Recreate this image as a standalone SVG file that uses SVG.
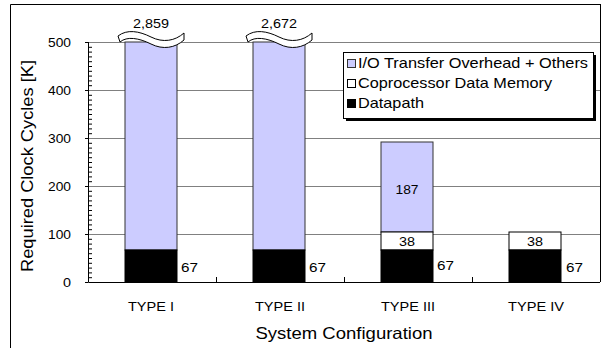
<svg xmlns="http://www.w3.org/2000/svg" xmlns:xlink="http://www.w3.org/1999/xlink" width="605" height="348" viewBox="0 0 605 348">
<style>
text{font-family:"Liberation Sans",Arial,sans-serif;fill:#000}
.t12{font-size:13px}
.t13{font-size:13.5px}
.t14{font-size:14.5px}
.t16{font-size:16.5px}
.grid{stroke:#808080;stroke-width:1;fill:none}
.axis{stroke:#000;stroke-width:1;fill:none}
.io{fill:#ccccff;stroke:#333;stroke-width:1}
.mem{fill:#fff;stroke:#000;stroke-width:1}
.dp{fill:#000;stroke:#000;stroke-width:1}
.wave{fill:#fff;stroke:#000;stroke-width:1}
</style>
<defs>
<path id="wave" d="M-33,36 C-24,29 -12,31 0,37 C12,43 24,41 33,33 L33,40 C24,48 12,50 0,44 C-12,38 -24,36 -31,42 Z"/>
</defs>
<rect x="0" y="0" width="605" height="348" fill="#fff"/>
<g id="frame">
<path class="axis" d="M10.5,348 V4.5 H600.5"/>
</g>
<g id="grid">
<path class="grid" d="M88,42.5 H600 M88,90.5 H600 M88,138.5 H600 M88,186.5 H600 M88,234.5 H600"/>
<path class="axis" d="M600.5,4 V282"/>
</g>
<g id="axes">
<path class="axis" d="M88.5,42 V282.5 H600"/>
<path class="axis" d="M85,42.5 H88 M85,90.5 H88 M85,138.5 H88 M85,186.5 H88 M85,234.5 H88 M85,282.5 H88"/>
<path class="axis" d="M88,47.3 h4 M88,52.1 h4 M88,56.9 h4 M88,61.7 h4 M88,66.5 h4 M88,71.3 h4 M88,76.1 h4 M88,80.9 h4 M88,85.7 h4 M88,95.3 h4 M88,100.1 h4 M88,104.9 h4 M88,109.7 h4 M88,114.5 h4 M88,119.3 h4 M88,124.1 h4 M88,128.9 h4 M88,133.7 h4 M88,143.3 h4 M88,148.1 h4 M88,152.9 h4 M88,157.7 h4 M88,162.5 h4 M88,167.3 h4 M88,172.1 h4 M88,176.9 h4 M88,181.7 h4 M88,191.3 h4 M88,196.1 h4 M88,200.9 h4 M88,205.7 h4 M88,210.5 h4 M88,215.3 h4 M88,220.1 h4 M88,224.9 h4 M88,229.7 h4 M88,239.3 h4 M88,244.1 h4 M88,248.9 h4 M88,253.7 h4 M88,258.5 h4 M88,263.3 h4 M88,268.1 h4 M88,272.9 h4 M88,277.7 h4"/>
<path class="axis" d="M216.5,277 V282 M344.5,277 V282 M472.5,277 V282"/>
<g class="t12">
<text x="71" y="47" text-anchor="end" textLength="23" lengthAdjust="spacingAndGlyphs">500</text>
<text x="71" y="95" text-anchor="end" textLength="23" lengthAdjust="spacingAndGlyphs">400</text>
<text x="71" y="143" text-anchor="end" textLength="23" lengthAdjust="spacingAndGlyphs">300</text>
<text x="71" y="191" text-anchor="end" textLength="23" lengthAdjust="spacingAndGlyphs">200</text>
<text x="71" y="239" text-anchor="end" textLength="23" lengthAdjust="spacingAndGlyphs">100</text>
<text x="71" y="287" text-anchor="end" textLength="8" lengthAdjust="spacingAndGlyphs">0</text>
</g>
<text class="t16" transform="translate(33,166) rotate(-90)" text-anchor="middle" textLength="212" lengthAdjust="spacingAndGlyphs">Required Clock Cycles [K]</text>
<text class="t16" x="344" y="339" text-anchor="middle" textLength="177" lengthAdjust="spacingAndGlyphs">System Configuration</text>
</g>
<g id="type1">
<rect class="io" x="125" y="42" width="52" height="208"/>
<rect class="dp" x="125" y="250" width="52" height="32"/>
<use xlink:href="#wave" class="wave" transform="translate(151,0)"/>
<text class="t13" x="151" y="28" text-anchor="middle" textLength="36" lengthAdjust="spacingAndGlyphs">2,859</text>
<text class="t13" x="181" y="272" textLength="17" lengthAdjust="spacingAndGlyphs">67</text>
<text class="t12" x="151" y="311" text-anchor="middle" textLength="46" lengthAdjust="spacingAndGlyphs">TYPE I</text>
</g>
<g id="type2">
<rect class="io" x="253" y="42" width="52" height="208"/>
<rect class="dp" x="253" y="250" width="52" height="32"/>
<use xlink:href="#wave" class="wave" transform="translate(279,0)"/>
<text class="t13" x="279" y="28" text-anchor="middle" textLength="36" lengthAdjust="spacingAndGlyphs">2,672</text>
<text class="t13" x="309" y="272" textLength="17" lengthAdjust="spacingAndGlyphs">67</text>
<text class="t12" x="280" y="311" text-anchor="middle" textLength="50" lengthAdjust="spacingAndGlyphs">TYPE II</text>
</g>
<g id="type3">
<rect class="io" x="381" y="142" width="52" height="90"/>
<rect class="mem" x="381" y="232" width="52" height="18"/>
<rect class="dp" x="381" y="250" width="52" height="32"/>
<text class="t13" x="407" y="194" text-anchor="middle" textLength="23" lengthAdjust="spacingAndGlyphs">187</text>
<text class="t13" x="407" y="246" text-anchor="middle" textLength="16" lengthAdjust="spacingAndGlyphs">38</text>
<text class="t13" x="437" y="270" textLength="17" lengthAdjust="spacingAndGlyphs">67</text>
<text class="t12" x="408" y="311" text-anchor="middle" textLength="54" lengthAdjust="spacingAndGlyphs">TYPE III</text>
</g>
<g id="type4">
<rect class="mem" x="509" y="232" width="52" height="18"/>
<rect class="dp" x="509" y="250" width="52" height="32"/>
<text class="t13" x="535" y="246" text-anchor="middle" textLength="16" lengthAdjust="spacingAndGlyphs">38</text>
<text class="t13" x="566" y="272" textLength="17" lengthAdjust="spacingAndGlyphs">67</text>
<text class="t12" x="536" y="311" text-anchor="middle" textLength="56" lengthAdjust="spacingAndGlyphs">TYPE IV</text>
</g>
<g id="legend">
<rect x="346" y="55" width="250" height="66" fill="#000"/>
<rect x="343.5" y="52.5" width="250" height="66" fill="#fff" stroke="#000"/>
<rect x="347.5" y="59.5" width="8" height="8" class="io"/>
<rect x="347.5" y="79.5" width="8" height="8" class="mem"/>
<rect x="347.5" y="99.5" width="8" height="8" class="dp"/>
<text class="t14" x="358" y="68" textLength="230" lengthAdjust="spacingAndGlyphs">I/O Transfer Overhead + Others</text>
<text class="t14" x="358" y="88" textLength="194" lengthAdjust="spacingAndGlyphs">Coprocessor Data Memory</text>
<text class="t14" x="358" y="108" textLength="66" lengthAdjust="spacingAndGlyphs">Datapath</text>
</g>
</svg>
